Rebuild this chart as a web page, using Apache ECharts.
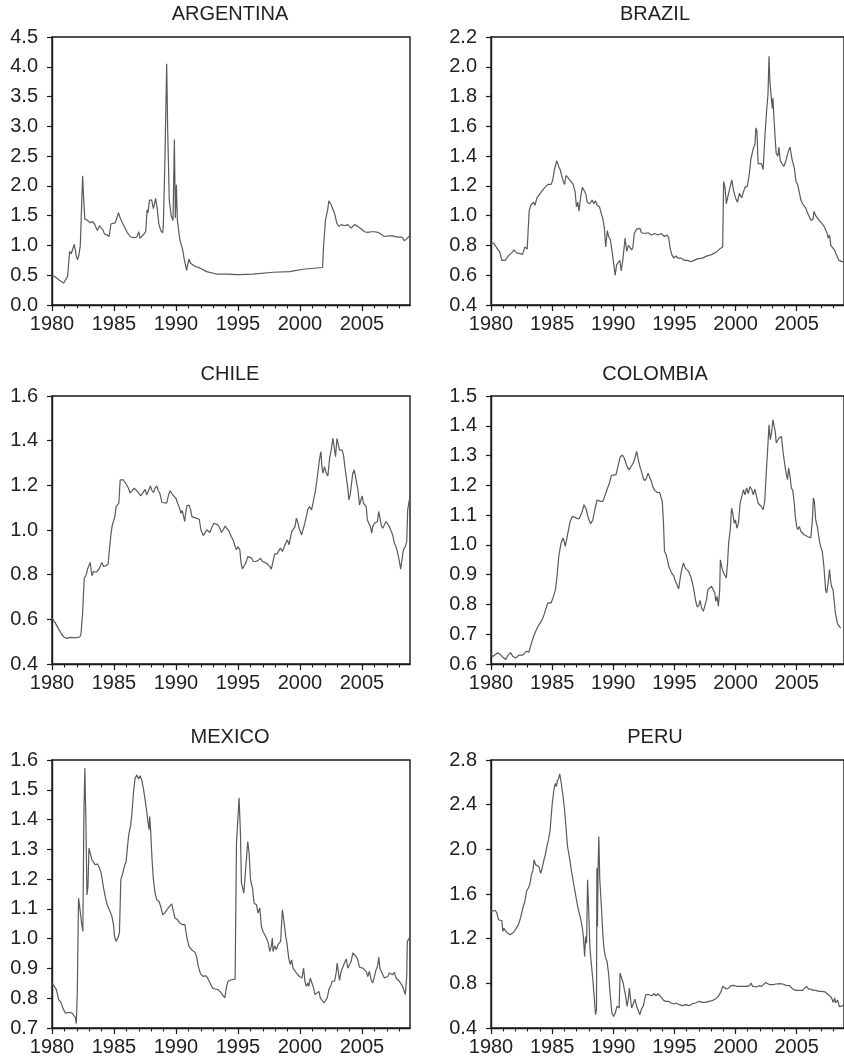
<!DOCTYPE html>
<html>
<head>
<meta charset="utf-8">
<script src="https://cdn.jsdelivr.net/npm/echarts@6/dist/echarts.min.js"></script>
<style>
html,body{margin:0;padding:0;background:#fff;}
#c{width:844px;height:1064px;}
</style>
</head>
<body>
<div id="c"></div>
<script>
// ---------- DATA ----------
const countries = ['ARGENTINA','BRAZIL','CHILE','COLOMBIA','MEXICO','PERU'];
const xMajorTicks = [1980,1985,1990,1995,2000,2005];
const xMinorTicks = [1980,1981,1982,1983,1984,1985,1986,1987,1988,1989,1990,1991,1992,1993,1994,1995,1996,1997,1998,1999,2000,2001,2002,2003,2004,2005,2006,2007,2008];
const yMin = [0.0, 0.4, 0.4, 0.6, 0.7, 0.4];
const yMax = [4.5, 2.2, 1.6, 1.5, 1.6, 2.8];
const yStep = [0.5, 0.2, 0.2, 0.1, 0.1, 0.4];

const argYears = [1980.00,1980.27,1980.62,1980.94,1981.07,1981.26,1981.42,1981.55,1981.64,1981.80,1981.96,1982.06,1982.17,1982.28,1982.39,1982.47,1982.57,1982.65,1982.82,1982.98,1983.08,1983.27,1983.43,1983.51,1983.65,1983.83,1983.97,1984.10,1984.24,1984.42,1984.56,1984.61,1984.75,1984.91,1985.09,1985.23,1985.36,1985.50,1985.71,1985.90,1986.09,1986.30,1986.57,1986.84,1987.00,1987.10,1987.37,1987.56,1987.67,1987.75,1987.86,1988.04,1988.18,1988.36,1988.50,1988.61,1988.77,1988.93,1988.98,1989.09,1989.25,1989.33,1989.46,1989.62,1989.76,1989.87,1989.95,1990.03,1990.11,1990.19,1990.32,1990.54,1990.67,1990.86,1990.94,1991.05,1991.18,1991.53,1991.93,1992.47,1993.27,1994.08,1995.01,1996.22,1997.83,1999.17,2000.24,2001.82,2001.90,2002.06,2002.25,2002.33,2002.52,2002.65,2002.79,2002.98,2003.14,2003.32,2003.59,2003.86,2004.13,2004.40,2004.66,2004.93,2005.20,2005.47,2005.74,2006.01,2006.27,2006.54,2006.81,2007.16,2007.48,2007.88,2008.23,2008.42,2008.61,2008.82];
const argVals = [0.50,0.47,0.41,0.37,0.39,0.48,0.90,0.86,0.84,1.02,0.82,0.76,0.84,0.99,1.01,2.17,1.71,1.44,1.43,1.44,1.38,1.40,1.36,1.32,1.25,1.33,1.36,1.26,1.19,1.18,1.19,1.15,1.36,1.37,1.38,1.46,1.55,1.46,1.37,1.29,1.21,1.15,1.13,1.14,1.23,1.12,1.18,1.23,1.60,1.55,1.76,1.76,1.62,1.79,1.60,1.37,1.25,1.21,1.35,2.27,4.05,2.94,1.76,1.49,1.42,2.78,1.46,2.02,1.43,1.29,1.09,0.93,0.76,0.58,0.68,0.77,0.70,0.65,0.62,0.56,0.52,0.52,0.51,0.52,0.55,0.56,0.60,0.63,0.98,1.43,1.62,1.75,1.68,1.70,1.54,1.37,1.32,1.35,1.33,1.35,1.29,1.35,1.32,1.28,1.23,1.22,1.23,1.23,1.22,1.19,1.15,1.16,1.16,1.14,1.14,1.08,1.11,1.16];

const braYears = [1980.00,1980.22,1980.35,1980.54,1980.70,1980.89,1981.16,1981.42,1981.69,1981.88,1982.10,1982.37,1982.58,1982.77,1982.96,1983.04,1983.12,1983.25,1983.39,1983.49,1983.60,1983.76,1983.92,1984.11,1984.30,1984.46,1984.65,1984.78,1984.92,1985.05,1985.19,1985.38,1985.54,1985.65,1985.75,1985.91,1986.02,1986.13,1986.34,1986.53,1986.72,1986.88,1986.99,1987.10,1987.20,1987.34,1987.47,1987.61,1987.74,1987.88,1988.06,1988.28,1988.41,1988.55,1988.68,1988.87,1989.03,1989.14,1989.27,1989.38,1989.52,1989.62,1989.76,1989.89,1990.03,1990.16,1990.27,1990.43,1990.54,1990.65,1990.78,1990.97,1991.10,1991.24,1991.37,1991.51,1991.61,1991.72,1991.91,1992.18,1992.31,1992.58,1992.85,1993.12,1993.39,1993.66,1993.92,1994.19,1994.41,1994.54,1994.65,1994.78,1994.95,1995.13,1995.27,1995.54,1995.81,1996.08,1996.34,1996.61,1996.88,1997.28,1997.69,1998.09,1998.49,1998.76,1998.95,1999.03,1999.14,1999.25,1999.35,1999.52,1999.70,1999.84,2000.00,2000.16,2000.32,2000.51,2000.65,2000.78,2000.97,2001.13,2001.26,2001.45,2001.59,2001.67,2001.75,2001.85,2001.99,2002.12,2002.26,2002.39,2002.53,2002.66,2002.74,2002.82,2002.93,2003.01,2003.06,2003.15,2003.25,2003.33,2003.47,2003.55,2003.66,2003.82,2003.95,2004.09,2004.22,2004.35,2004.46,2004.62,2004.81,2004.95,2005.08,2005.22,2005.35,2005.48,2005.62,2005.75,2005.89,2006.02,2006.16,2006.34,2006.42,2006.56,2006.83,2007.04,2007.23,2007.37,2007.50,2007.58,2007.69,2007.80,2007.96,2008.09,2008.17,2008.45,2008.80];
const braVals = [0.815,0.815,0.80,0.775,0.76,0.70,0.70,0.73,0.75,0.77,0.75,0.745,0.74,0.79,0.775,0.78,1.03,1.07,1.06,1.09,1.07,1.12,1.13,1.16,1.18,1.19,1.21,1.22,1.21,1.24,1.31,1.37,1.33,1.31,1.32,1.23,1.21,1.27,1.25,1.23,1.21,1.16,1.06,1.09,1.03,1.13,1.19,1.19,1.15,1.09,1.08,1.105,1.08,1.10,1.07,1.06,1.06,0.98,0.92,0.79,0.90,0.86,0.84,0.77,0.68,0.60,0.67,0.68,0.70,0.63,0.70,0.85,0.76,0.80,0.80,0.77,0.79,0.88,0.91,0.915,0.885,0.88,0.885,0.87,0.88,0.87,0.88,0.86,0.87,0.85,0.78,0.74,0.715,0.73,0.715,0.715,0.70,0.70,0.69,0.70,0.71,0.715,0.73,0.74,0.76,0.78,0.79,1.23,1.19,1.08,1.12,1.18,1.24,1.17,1.12,1.09,1.15,1.12,1.16,1.19,1.20,1.28,1.38,1.45,1.48,1.59,1.57,1.35,1.34,1.35,1.31,1.51,1.69,1.82,2.07,1.89,1.79,1.72,1.79,1.65,1.51,1.42,1.40,1.46,1.37,1.36,1.33,1.36,1.35,1.44,1.46,1.38,1.32,1.23,1.21,1.22,1.105,1.08,1.07,1.05,1.02,1.02,0.97,0.975,1.03,1.00,0.97,0.95,0.93,0.905,0.88,0.85,0.87,0.80,0.79,0.77,0.755,0.70,0.69];

const chiYears = [1980.00,1980.27,1980.54,1980.80,1980.99,1981.21,1981.47,1981.74,1982.01,1982.23,1982.33,1982.47,1982.60,1982.73,1982.87,1982.98,1983.08,1983.22,1983.35,1983.57,1983.75,1983.89,1984.02,1984.16,1984.37,1984.53,1984.64,1984.75,1984.85,1984.96,1985.07,1985.17,1985.28,1985.39,1985.50,1985.63,1985.76,1985.98,1986.17,1986.30,1986.46,1986.62,1986.84,1987.00,1987.16,1987.32,1987.51,1987.64,1987.77,1987.94,1988.04,1988.18,1988.31,1988.45,1988.58,1988.71,1988.87,1989.03,1989.25,1989.38,1989.52,1989.68,1989.84,1990.00,1990.13,1990.27,1990.40,1990.51,1990.62,1990.70,1990.78,1990.88,1991.05,1991.18,1991.29,1991.45,1991.61,1991.74,1991.88,1992.01,1992.20,1992.33,1992.47,1992.60,1992.73,1992.90,1993.06,1993.22,1993.38,1993.54,1993.67,1993.81,1993.97,1994.13,1994.29,1994.45,1994.61,1994.77,1994.88,1994.99,1995.15,1995.25,1995.36,1995.47,1995.63,1995.79,1995.95,1996.11,1996.22,1996.43,1996.62,1996.81,1996.97,1997.16,1997.35,1997.56,1997.69,1997.83,1997.96,1998.15,1998.31,1998.42,1998.58,1998.69,1998.85,1998.98,1999.12,1999.22,1999.33,1999.49,1999.60,1999.71,1999.84,1999.97,2000.13,2000.24,2000.38,2000.51,2000.64,2000.78,2000.94,2001.05,2001.15,2001.26,2001.37,2001.47,2001.58,2001.69,2001.77,2001.85,2001.98,2002.12,2002.25,2002.39,2002.52,2002.65,2002.76,2002.87,2002.98,2003.08,2003.19,2003.30,2003.40,2003.51,2003.62,2003.73,2003.86,2003.94,2004.05,2004.16,2004.26,2004.37,2004.48,2004.58,2004.69,2004.80,2004.91,2005.01,2005.12,2005.23,2005.34,2005.44,2005.55,2005.68,2005.79,2005.87,2006.01,2006.14,2006.25,2006.35,2006.46,2006.57,2006.68,2006.81,2006.94,2007.08,2007.21,2007.35,2007.48,2007.61,2007.75,2007.88,2008.02,2008.12,2008.23,2008.34,2008.50,2008.61,2008.69,2008.82];
const chiVals = [0.606,0.583,0.556,0.531,0.519,0.515,0.519,0.518,0.518,0.521,0.531,0.628,0.785,0.795,0.825,0.829,0.855,0.795,0.814,0.811,0.822,0.837,0.855,0.837,0.840,0.849,0.919,0.978,1.018,1.023,1.060,1.105,1.105,1.120,1.224,1.232,1.224,1.206,1.187,1.165,1.162,1.187,1.176,1.165,1.153,1.147,1.182,1.157,1.162,1.197,1.179,1.168,1.187,1.197,1.176,1.162,1.123,1.123,1.120,1.153,1.176,1.162,1.162,1.142,1.120,1.102,1.075,1.087,1.060,1.038,1.075,1.108,1.112,1.090,1.060,1.063,1.053,1.060,1.048,1.001,0.975,0.986,1.001,0.993,0.989,1.013,1.030,1.033,1.023,1.008,0.989,1.001,1.018,1.015,0.993,0.971,0.956,0.926,0.911,0.926,0.911,0.852,0.825,0.829,0.852,0.881,0.878,0.874,0.859,0.859,0.863,0.874,0.859,0.855,0.849,0.837,0.825,0.859,0.893,0.893,0.899,0.919,0.904,0.911,0.941,0.956,0.934,0.963,0.993,0.996,1.015,1.053,1.030,1.001,0.978,1.001,1.027,1.060,1.093,1.105,1.090,1.120,1.150,1.179,1.224,1.269,1.317,1.351,1.284,1.254,1.284,1.254,1.242,1.321,1.358,1.410,1.373,1.328,1.410,1.403,1.358,1.351,1.358,1.336,1.284,1.239,1.187,1.135,1.157,1.209,1.254,1.269,1.239,1.209,1.172,1.112,1.120,1.153,1.120,1.120,1.105,1.045,1.030,1.015,0.986,1.015,1.030,1.027,1.038,1.083,1.075,1.018,1.008,1.015,1.038,1.038,1.015,1.008,0.978,0.941,0.926,0.896,0.859,0.825,0.866,0.911,0.926,0.948,1.090,1.135];

const colYears = [1980.00,1980.15,1980.30,1980.55,1980.80,1981.00,1981.20,1981.40,1981.60,1981.80,1982.00,1982.30,1982.60,1982.90,1983.10,1983.31,1983.49,1983.71,1983.92,1984.11,1984.30,1984.46,1984.65,1984.92,1985.11,1985.27,1985.40,1985.54,1985.73,1985.91,1986.08,1986.21,1986.34,1986.48,1986.67,1986.80,1986.99,1987.20,1987.42,1987.61,1987.80,1987.96,1988.15,1988.33,1988.49,1988.68,1988.82,1988.95,1989.14,1989.30,1989.49,1989.68,1989.84,1990.03,1990.22,1990.38,1990.56,1990.75,1990.91,1991.10,1991.29,1991.45,1991.64,1991.77,1991.91,1992.04,1992.18,1992.31,1992.45,1992.58,1992.72,1992.85,1992.98,1993.12,1993.25,1993.39,1993.60,1993.79,1993.92,1994.01,1994.11,1994.19,1994.33,1994.46,1994.54,1994.68,1994.78,1994.95,1995.05,1995.22,1995.35,1995.48,1995.62,1995.75,1995.89,1996.02,1996.16,1996.34,1996.48,1996.61,1996.75,1996.88,1997.02,1997.10,1997.23,1997.37,1997.50,1997.63,1997.74,1997.88,1998.04,1998.17,1998.31,1998.39,1998.49,1998.60,1998.71,1998.76,1998.90,1999.03,1999.17,1999.25,1999.35,1999.44,1999.57,1999.68,1999.78,1999.89,2000.00,2000.11,2000.24,2000.38,2000.51,2000.65,2000.78,2000.91,2001.05,2001.18,2001.32,2001.45,2001.59,2001.72,2001.85,2001.99,2002.12,2002.26,2002.39,2002.53,2002.66,2002.74,2002.85,2002.96,2003.06,2003.15,2003.25,2003.33,2003.47,2003.55,2003.66,2003.76,2003.87,2004.01,2004.14,2004.25,2004.35,2004.46,2004.57,2004.68,2004.81,2004.89,2005.00,2005.08,2005.22,2005.35,2005.48,2005.62,2005.75,2005.89,2006.02,2006.16,2006.29,2006.37,2006.45,2006.56,2006.69,2006.83,2006.96,2007.10,2007.23,2007.37,2007.45,2007.58,2007.69,2007.77,2007.85,2007.98,2008.09,2008.17,2008.35,2008.60];
const colVals = [0.635,0.625,0.630,0.638,0.630,0.622,0.615,0.630,0.638,0.625,0.620,0.630,0.630,0.643,0.640,0.670,0.693,0.715,0.732,0.743,0.760,0.782,0.805,0.805,0.827,0.849,0.894,0.961,1.006,1.023,0.995,0.995,1.051,1.079,1.096,1.101,1.090,1.087,1.107,1.135,1.118,1.090,1.071,1.084,1.118,1.151,1.157,1.146,1.146,1.163,1.185,1.207,1.232,1.235,1.235,1.263,1.295,1.302,1.291,1.266,1.252,1.258,1.275,1.291,1.314,1.288,1.263,1.247,1.224,1.216,1.224,1.241,1.243,1.213,1.194,1.183,1.176,1.176,1.179,1.146,1.073,0.978,0.967,0.945,0.928,0.928,0.905,0.896,0.881,0.866,0.852,0.889,0.922,0.939,0.922,0.917,0.911,0.894,0.872,0.844,0.810,0.791,0.799,0.814,0.788,0.777,0.782,0.816,0.849,0.855,0.861,0.855,0.838,0.810,0.827,0.794,0.849,0.950,0.922,0.905,0.911,0.889,0.939,1.006,1.051,1.123,1.107,1.073,1.084,1.056,1.073,1.140,1.146,1.185,1.168,1.191,1.172,1.196,1.187,1.168,1.187,1.163,1.140,1.135,1.129,1.118,1.146,1.252,1.342,1.403,1.353,1.381,1.420,1.426,1.381,1.342,1.347,1.358,1.353,1.364,1.319,1.275,1.241,1.219,1.258,1.230,1.191,1.183,1.140,1.096,1.062,1.051,1.062,1.045,1.040,1.034,1.037,1.028,1.023,1.023,1.084,1.157,1.146,1.084,1.062,1.023,0.995,0.978,0.928,0.849,0.838,0.872,0.917,0.883,0.861,0.849,0.805,0.771,0.735,0.720];

const mexYears = [1980.00,1980.19,1980.35,1980.54,1980.72,1980.88,1981.07,1981.21,1981.42,1981.61,1981.74,1981.88,1981.96,1982.04,1982.14,1982.28,1982.39,1982.49,1982.57,1982.65,1982.73,1982.82,1982.90,1982.98,1983.08,1983.22,1983.35,1983.49,1983.67,1983.83,1983.97,1984.16,1984.29,1984.42,1984.56,1984.69,1984.83,1984.96,1985.04,1985.17,1985.31,1985.44,1985.55,1985.71,1985.84,1985.98,1986.09,1986.19,1986.35,1986.46,1986.57,1986.70,1986.84,1986.97,1987.10,1987.24,1987.37,1987.51,1987.64,1987.72,1987.83,1987.88,1987.96,1988.07,1988.18,1988.31,1988.45,1988.63,1988.77,1988.93,1989.12,1989.38,1989.65,1989.79,1989.92,1990.11,1990.32,1990.54,1990.72,1990.86,1991.05,1991.26,1991.53,1991.66,1991.80,1991.98,1992.20,1992.39,1992.55,1992.73,1992.95,1993.14,1993.40,1993.67,1993.81,1993.94,1994.08,1994.21,1994.34,1994.48,1994.61,1994.77,1994.88,1994.99,1995.09,1995.20,1995.28,1995.36,1995.47,1995.63,1995.79,1995.90,1996.01,1996.17,1996.30,1996.49,1996.62,1996.76,1996.89,1997.02,1997.16,1997.29,1997.45,1997.56,1997.69,1997.77,1997.83,1997.96,1998.10,1998.23,1998.36,1998.44,1998.58,1998.71,1998.85,1998.95,1999.09,1999.22,1999.33,1999.44,1999.57,1999.71,1999.84,1999.97,2000.16,2000.29,2000.40,2000.51,2000.64,2000.72,2000.83,2000.97,2001.10,2001.21,2001.37,2001.53,2001.64,2001.80,2001.93,2002.06,2002.20,2002.33,2002.47,2002.60,2002.79,2002.92,2003.00,2003.11,2003.19,2003.32,2003.46,2003.59,2003.73,2003.86,2003.99,2004.13,2004.26,2004.40,2004.53,2004.66,2004.80,2004.93,2005.07,2005.20,2005.34,2005.47,2005.60,2005.74,2005.87,2006.01,2006.14,2006.27,2006.35,2006.46,2006.62,2006.81,2006.94,2007.08,2007.21,2007.35,2007.48,2007.61,2007.75,2007.88,2008.02,2008.15,2008.28,2008.42,2008.50,2008.61,2008.66,2008.82];
const mexVals = [0.851,0.840,0.829,0.795,0.786,0.767,0.750,0.745,0.753,0.750,0.745,0.736,0.715,0.817,1.136,1.091,1.050,1.024,1.410,1.572,1.399,1.147,1.175,1.304,1.298,1.265,1.259,1.248,1.251,1.237,1.220,1.170,1.142,1.119,1.103,1.091,1.075,1.047,1.008,0.991,1.002,1.019,1.198,1.220,1.243,1.259,1.310,1.349,1.382,1.427,1.489,1.539,1.550,1.536,1.547,1.533,1.505,1.466,1.427,1.399,1.366,1.410,1.360,1.265,1.198,1.153,1.131,1.125,1.108,1.080,1.088,1.103,1.117,1.122,1.069,1.064,1.052,1.047,1.047,1.008,0.974,0.963,0.954,0.940,0.907,0.882,0.873,0.876,0.868,0.853,0.834,0.831,0.829,0.817,0.808,0.801,0.840,0.857,0.851,0.862,0.860,0.864,1.321,1.326,1.472,1.354,1.187,1.181,1.153,1.153,1.326,1.287,1.198,1.170,1.119,1.114,1.086,1.103,1.041,1.024,1.028,1.002,0.985,0.957,0.974,1.002,0.957,0.976,0.963,0.980,0.985,0.991,1.097,1.058,1.008,0.985,0.935,0.913,0.929,0.901,0.896,0.885,0.879,0.873,0.868,0.901,0.857,0.840,0.851,0.840,0.868,0.862,0.834,0.812,0.806,0.823,0.801,0.795,0.784,0.778,0.801,0.829,0.840,0.857,0.857,0.885,0.918,0.885,0.860,0.890,0.885,0.918,0.932,0.901,0.898,0.924,0.952,0.946,0.940,0.929,0.904,0.901,0.901,0.901,0.890,0.873,0.890,0.862,0.851,0.845,0.896,0.909,0.938,0.898,0.885,0.868,0.862,0.873,0.885,0.885,0.879,0.887,0.868,0.868,0.857,0.851,0.840,0.834,0.812,0.873,0.991,1.002];

const perYears = [1980.00,1980.16,1980.35,1980.48,1980.62,1980.75,1980.89,1980.97,1981.05,1981.16,1981.29,1981.42,1981.56,1981.69,1981.83,1981.96,1982.10,1982.23,1982.37,1982.50,1982.63,1982.77,1982.90,1983.04,1983.17,1983.31,1983.44,1983.52,1983.66,1983.79,1983.92,1984.06,1984.17,1984.30,1984.44,1984.57,1984.70,1984.84,1984.92,1985.00,1985.11,1985.19,1985.27,1985.35,1985.43,1985.54,1985.62,1985.73,1985.86,1985.99,1986.13,1986.26,1986.45,1986.61,1986.80,1986.99,1987.15,1987.34,1987.47,1987.55,1987.66,1987.74,1987.82,1987.90,1987.98,1988.09,1988.20,1988.33,1988.44,1988.55,1988.63,1988.66,1988.71,1988.76,1988.82,1988.90,1989.03,1989.14,1989.25,1989.35,1989.49,1989.62,1989.76,1989.89,1990.03,1990.16,1990.30,1990.40,1990.48,1990.56,1990.70,1990.81,1990.91,1991.02,1991.13,1991.24,1991.32,1991.42,1991.51,1991.64,1991.77,1991.91,1992.04,1992.18,1992.31,1992.45,1992.58,1992.66,1992.77,1992.90,1993.04,1993.17,1993.33,1993.49,1993.66,1993.79,1993.92,1994.14,1994.33,1994.52,1994.73,1994.95,1995.13,1995.40,1995.67,1995.94,1996.21,1996.48,1996.75,1997.02,1997.28,1997.55,1997.82,1998.09,1998.36,1998.63,1998.82,1998.95,1999.03,1999.25,1999.44,1999.62,1999.84,2000.11,2000.38,2000.65,2000.91,2001.18,2001.26,2001.40,2001.72,2001.94,2002.12,2002.26,2002.47,2002.61,2002.80,2003.06,2003.33,2003.60,2003.87,2004.14,2004.27,2004.41,2004.68,2004.95,2005.22,2005.48,2005.62,2005.81,2005.97,2006.16,2006.34,2006.56,2006.83,2007.10,2007.37,2007.58,2007.77,2007.90,2007.98,2008.12,2008.17,2008.35,2008.50,2008.80];
const perVals = [1.444,1.435,1.452,1.429,1.369,1.354,1.360,1.265,1.294,1.280,1.256,1.244,1.235,1.241,1.256,1.274,1.286,1.324,1.369,1.423,1.488,1.533,1.622,1.652,1.682,1.771,1.816,1.906,1.861,1.852,1.846,1.786,1.822,1.891,1.950,2.025,2.085,2.174,2.293,2.398,2.502,2.562,2.591,2.562,2.615,2.636,2.675,2.606,2.502,2.383,2.204,2.025,1.906,1.786,1.667,1.548,1.458,1.375,1.294,1.226,1.041,1.220,1.160,1.727,1.488,1.116,0.981,0.832,0.683,0.519,0.564,1.831,1.309,1.837,2.114,1.727,1.488,1.250,1.101,1.041,0.996,0.886,0.683,0.534,0.504,0.534,0.594,0.609,0.579,0.892,0.901,0.803,0.743,0.683,0.594,0.668,0.758,0.653,0.579,0.579,0.659,0.594,0.579,0.519,0.570,0.594,0.600,0.698,0.683,0.698,0.707,0.689,0.707,0.689,0.707,0.707,0.677,0.645,0.639,0.639,0.624,0.615,0.624,0.609,0.600,0.609,0.600,0.618,0.624,0.639,0.630,0.630,0.639,0.645,0.659,0.689,0.728,0.773,0.758,0.749,0.758,0.779,0.782,0.773,0.773,0.773,0.773,0.782,0.803,0.773,0.767,0.779,0.773,0.788,0.808,0.823,0.788,0.788,0.794,0.797,0.794,0.782,0.794,0.779,0.749,0.737,0.737,0.737,0.749,0.773,0.749,0.749,0.737,0.737,0.728,0.728,0.722,0.698,0.683,0.659,0.630,0.668,0.624,0.650,0.590,0.600];

const seriesYears = [argYears, braYears, chiYears, colYears, mexYears, perYears];
const seriesVals  = [argVals,  braVals,  chiVals,  colVals,  mexVals,  perVals];

// ---------- LAYOUT ----------
const FONT = '"Liberation Sans", Arial, sans-serif';
const TXT = '#231f20';
const colLeft = [52, 491];
const rowTop = [37, 396, 760];
const plotW = 358, plotH = 268;
const titleX = [230, 655];
const titleY = [14, 374, 737];
const X_MIN = 1980, X_MAX = 2008.875;

const grids = [], xAxes = [], yAxes = [], series = [], graphics = [];
for (let i = 0; i < 6; i++) {
  const c = i % 2, r = Math.floor(i / 2);
  grids.push({left: colLeft[c], top: rowTop[r], width: plotW, height: plotH,
    show: true, borderColor: '#1a1a1a', borderWidth: 1.4, backgroundColor: 'transparent'});
  // main x axis: major ticks + labels
  xAxes.push({type: 'value', gridIndex: i, min: X_MIN, max: X_MAX, position: 'bottom',
    axisLine: {show: true, lineStyle: {color: '#1a1a1a', width: 1.4}},
    axisTick: {show: true, inside: false, length: 6, customValues: xMajorTicks, lineStyle: {color: '#1a1a1a', width: 1.2}},
    axisLabel: {show: true, customValues: xMajorTicks, margin: 9, fontSize: 20, fontFamily: FONT, color: TXT,
      formatter: v => String(Math.round(v))},
    splitLine: {show: false}});
  // minor x axis: yearly ticks
  xAxes.push({type: 'value', gridIndex: i, min: X_MIN, max: X_MAX, position: 'bottom',
    axisLine: {show: false},
    axisTick: {show: true, inside: false, length: 3.5, customValues: xMinorTicks, lineStyle: {color: '#1a1a1a', width: 1.1}},
    axisLabel: {show: false}, splitLine: {show: false}});
  yAxes.push({type: 'value', gridIndex: i, min: yMin[i], max: yMax[i], interval: yStep[i],
    axisLine: {show: true, lineStyle: {color: '#1a1a1a', width: 1.4}},
    axisTick: {show: true, inside: false, length: 5, lineStyle: {color: '#1a1a1a', width: 1.2}},
    axisLabel: {show: true, margin: 14, fontSize: 20, fontFamily: FONT, color: TXT,
      formatter: v => v.toFixed(1)},
    splitLine: {show: false}});
  series.push({type: 'line', xAxisIndex: 2 * i, yAxisIndex: i, showSymbol: false, symbol: 'none',
    data: seriesYears[i].map((y, k) => [y, seriesVals[i][k]]),
    lineStyle: {color: '#5a5a5a', width: 1.2}, animation: false, silent: true});
  graphics.push({type: 'text', x: titleX[c], y: titleY[r],
    style: {text: countries[i], font: '20px ' + FONT, fill: TXT,
      textAlign: 'center', align: 'center', textVerticalAlign: 'middle', verticalAlign: 'middle'}});
}

const chart = echarts.init(document.getElementById('c'), null, {renderer: 'canvas'});
chart.setOption({
  backgroundColor: '#ffffff',
  animation: false,
  grid: grids, xAxis: xAxes, yAxis: yAxes, series: series, graphic: graphics
});
</script>
</body>
</html>
